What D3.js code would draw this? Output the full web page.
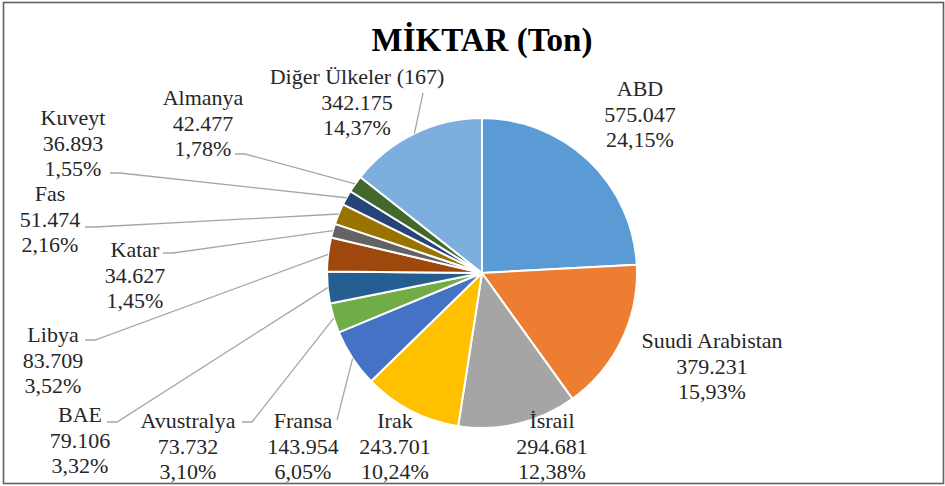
<!DOCTYPE html>
<html><head><meta charset="utf-8">
<script src="https://cdn.jsdelivr.net/npm/d3@7"></script>
</head>
<body style="margin:0;padding:0;background:#fff">
<svg id="chart" width="945" height="486"></svg>
<script>
// ---- data ----
const categories = ["ABD","Suudi Arabistan","İsrail","Irak","Fransa","Avustralya","BAE","Libya","Katar","Fas","Kuveyt","Almanya","Diğer Ülkeler (167)"];
const valuesTon = [575047,379231,294681,243701,143954,73732,79106,83709,34627,51474,36893,42477,342175];
const valueLabels = ["575.047","379.231","294.681","243.701","143.954","73.732","79.106","83.709","34.627","51.474","36.893","42.477","342.175"];
const percentLabels = ["24,15%","15,93%","12,38%","10,24%","6,05%","3,10%","3,32%","3,52%","1,45%","2,16%","1,55%","1,78%","14,37%"];
const colors = ["#5B9BD5","#ED7D31","#A5A5A5","#FFC000","#4472C4","#70AD47","#255E91","#9E480E","#636363","#997300","#264478","#43682B","#7CAFDD"];
const title = "MİKTAR (Ton)";

// ---- layout (label placement, not data) ----
// [textCenterX, firstBaselineY, leaderStartX, leaderStartY, stubX or null]
const labelLayout = [
  [640, 96, null, null, null],
  [712, 348, null, null, null],
  [552, 428, null, null, null],
  [395, 428, null, null, null],
  [303, 428, 337, 420, null],
  [188, 428, 242, 422, 252],
  [80, 422, 107, 422, 117],
  [53, 342, 85, 340, 95],
  [135, 257, 163, 253, 173],
  [50, 201, 85, 227, 95],
  [73, 125, 110, 173, 120],
  [203, 105, 235, 154, 245],
  [357, 84, 423, 93, null]
];

const FONT = '"Liberation Serif", "Times New Roman", serif';
const svg = d3.select("#chart");
svg.append("rect").attr("x",3.5).attr("y",2.5).attr("width",940).attr("height",481)
  .attr("fill","#fff").attr("stroke","#5f5f5f").attr("stroke-width",1.6);

svg.append("text").attr("x",482).attr("y",51).attr("text-anchor","middle")
  .attr("font-family",FONT).attr("font-size",33).attr("font-weight","bold")
  .attr("fill","#000").text(title);

const cx = 482, cy = 273, R = 155;
const data = categories.map((c,i)=>({name:c, value:valuesTon[i], i}));
const pie = d3.pie().sort(null).value(d=>d.value);
const arcs = pie(data);
const arc = d3.arc().innerRadius(0).outerRadius(R);
const edge = d3.arc().innerRadius(R).outerRadius(R);

const g = svg.append("g").attr("transform",`translate(${cx},${cy})`);
g.selectAll("path").data(arcs).join("path")
  .attr("d",arc).attr("fill",d=>colors[d.data.i])
  .attr("stroke","#fff").attr("stroke-width",2).attr("stroke-linejoin","round");

// leader lines
arcs.forEach(a=>{
  const L = labelLayout[a.data.i];
  if (L[2]===null) return;
  const [ex,ey] = edge.centroid(a);
  const pts = [[L[2],L[3]]];
  if (L[4]!==null) pts.push([L[4],L[3]]);
  pts.push([cx+ex, cy+ey]);
  svg.append("path").attr("d", d3.line()(pts))
    .attr("fill","none").attr("stroke","#A6A6A6").attr("stroke-width",1.3);
});

// labels
arcs.forEach(a=>{
  const i = a.data.i, L = labelLayout[i];
  const t = svg.append("text").attr("text-anchor","middle")
    .attr("font-family",FONT).attr("font-size",22).attr("fill","#262626");
  [categories[i], valueLabels[i], percentLabels[i]].forEach((s,k)=>{
    t.append("tspan").attr("x",L[0]).attr("y",L[1]+k*25.5).text(s);
  });
});
</script>
</body></html>
